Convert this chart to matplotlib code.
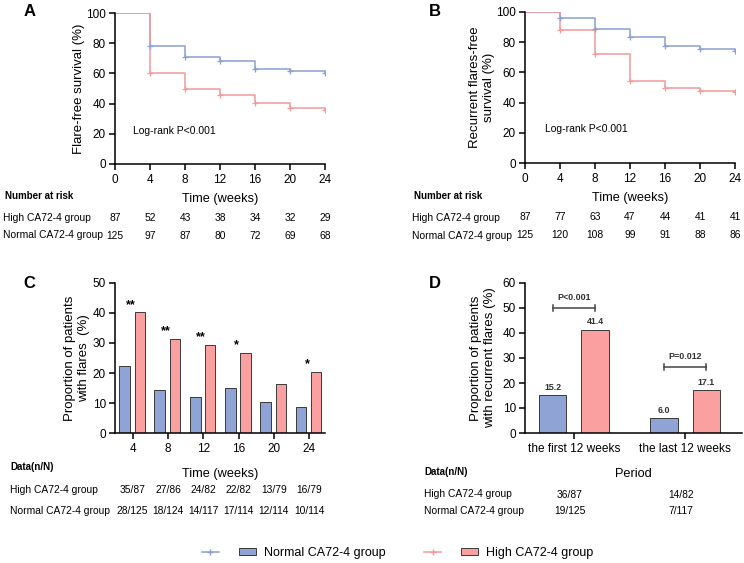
import numpy as np
import matplotlib.pyplot as plt
from matplotlib.lines import Line2D
from matplotlib.patches import Patch
from matplotlib.legend_handler import HandlerTuple

plt.rcParams['font.family'] = ['Liberation Sans', 'DejaVu Sans']

BLUE_LINE = '#8c9fcf'
RED_LINE = '#f29a9a'
BLUE_BAR = '#8fa4d4'
RED_BAR = '#fba0a0'
EDGE = '#3a3a3a'

# Kaplan-Meier data (percent)
weeks = [0, 4, 8, 12, 16, 20, 24]
a_normal = [100, 78, 71, 68, 63, 61.5, 60]
a_high = [100, 60, 49.5, 45.5, 40.7, 37.2, 36]
a_risk_high = [87, 52, 43, 38, 34, 32, 29]
a_risk_normal = [125, 97, 87, 80, 72, 69, 68]

b_normal = [100, 96, 88.5, 83.5, 77.5, 75.5, 74]
b_high = [100, 88, 72.5, 54, 50, 47.5, 47]
b_risk_high = [87, 77, 63, 47, 44, 41, 41]
b_risk_normal = [125, 120, 108, 99, 91, 88, 86]

# panel C
c_weeks = ['4', '8', '12', '16', '20', '24']
c_normal = [22.4, 14.5, 12.0, 14.9, 10.5, 8.8]
c_high = [40.2, 31.4, 29.3, 26.8, 16.5, 20.3]
c_stars = ['**', '**', '**', '*', '', '*']
c_tab_high = ['35/87', '27/86', '24/82', '22/82', '13/79', '16/79']
c_tab_normal = ['28/125', '18/124', '14/117', '17/114', '12/114', '10/114']

# panel D
d_periods = ['the first 12 weeks', 'the last 12 weeks']
d_normal = [15.2, 6.0]
d_high = [41.4, 17.1]
d_pvals = ['P<0.001', 'P=0.012']
d_bracket_y = [50, 26.5]
d_tab_high = ['36/87', '14/82']
d_tab_normal = ['19/125', '7/117']

W, H = 744, 563
fig = plt.figure(figsize=(W / 100, H / 100), dpi=100)


def box(l, t, r, b):
    return [l / W, 1 - b / H, (r - l) / W, (b - t) / H]


def style(ax):
    for s in ['top', 'right']:
        ax.spines[s].set_visible(False)
    for s in ['left', 'bottom']:
        ax.spines[s].set_linewidth(1.1)
    ax.tick_params(direction='out', length=4, width=1.1, labelsize=8.5, pad=2.5)


def km_panel(ax, normal, high, ylabel, r_high, r_normal, lab_x, lab_y):
    ax.step(weeks, normal, where='post', color=BLUE_LINE, lw=1.1)
    ax.step(weeks, high, where='post', color=RED_LINE, lw=1.1)
    ax.plot(weeks[1:], normal[1:], ls='none', marker='+', ms=4, mew=0.9, color=BLUE_LINE)
    ax.plot(weeks[1:], high[1:], ls='none', marker='+', ms=4, mew=0.9, color=RED_LINE)
    ax.set_xlim(0, 24)
    ax.set_ylim(0, 100)
    ax.set_xticks(weeks)
    ax.set_yticks(range(0, 101, 20))
    style(ax)
    ax.tick_params(axis='x', pad=3.5)
    ax.set_xlabel('Time (weeks)', fontsize=9.2, labelpad=5)
    ax.set_ylabel(ylabel, fontsize=9.5, labelpad=1)
    ax.text(lab_x, lab_y, 'Log-rank P<0.001', fontsize=7.5)
    tr = ax.get_xaxis_transform()
    for t, h, n in zip(weeks, r_high, r_normal):
        ax.text(t, -0.36, str(h), transform=tr, ha='center', va='center', fontsize=7.4, clip_on=False)
        ax.text(t, -0.475, str(n), transform=tr, ha='center', va='center', fontsize=7.4, clip_on=False)


# A
axA = fig.add_axes(box(115, 13, 325, 164))
km_panel(axA, a_normal, a_high, 'Flare-free survival (%)', a_risk_high, a_risk_normal, 2.1, 20)
fig.text(5 / W, 1 - 196 / H, 'Number at risk', fontsize=7, fontweight='bold', va='center')
fig.text(3 / W, 1 - 218 / H, 'High CA72-4 group', fontsize=7.4, va='center')
fig.text(3 / W, 1 - 235 / H, 'Normal CA72-4 group', fontsize=7.4, va='center')

# B
axB = fig.add_axes(box(525, 12, 735, 163))
km_panel(axB, b_normal, b_high, 'Recurrent flares-free\nsurvival (%)', b_risk_high, b_risk_normal, 2.3, 20.5)
fig.text(414 / W, 1 - 196 / H, 'Number at risk', fontsize=7, fontweight='bold', va='center')
fig.text(412 / W, 1 - 218 / H, 'High CA72-4 group', fontsize=7.4, va='center')
fig.text(412 / W, 1 - 236 / H, 'Normal CA72-4 group', fontsize=7.4, va='center')

# C
axC = fig.add_axes(box(115, 283, 325, 433))
xc = np.arange(len(c_weeks))
axC.bar(xc - 0.23, c_normal, width=0.31, color=BLUE_BAR, edgecolor=EDGE, linewidth=0.7)
axC.bar(xc + 0.2, c_high, width=0.29, color=RED_BAR, edgecolor=EDGE, linewidth=0.7)
for x, h, s in zip(xc, c_high, c_stars):
    if s:
        axC.text(x - 0.06, h + 0.5, s, ha='center', va='bottom', fontsize=9, fontweight='bold')
axC.set_xlim(-0.5, 5.45)
axC.set_ylim(0, 50)
axC.set_xticks(xc)
axC.set_xticklabels(c_weeks)
axC.set_yticks(range(0, 51, 10))
style(axC)
axC.tick_params(axis='x', pad=3.5)
axC.set_xlabel('Time (weeks)', fontsize=9.2, labelpad=9)
axC.set_ylabel('Proportion of patients\nwith flares  (%)', fontsize=9.5, labelpad=2)
tr = axC.get_xaxis_transform()
for x, h, n in zip(xc, c_tab_high, c_tab_normal):
    axC.text(x, -0.38, h, transform=tr, ha='center', va='center', fontsize=7.4, clip_on=False)
    axC.text(x, -0.52, n, transform=tr, ha='center', va='center', fontsize=7.4, clip_on=False)
fig.text(10 / W, 1 - 467 / H, 'Data(n/N)', fontsize=7, fontweight='bold', va='center')
fig.text(10 / W, 1 - 490 / H, 'High CA72-4 group', fontsize=7.4, va='center')
fig.text(10 / W, 1 - 511 / H, 'Normal CA72-4 group', fontsize=7.4, va='center')

# D
axD = fig.add_axes(box(525, 283, 742, 433))
xd = np.arange(len(d_periods))
axD.bar(xd - 0.19, d_normal, width=0.245, color=BLUE_BAR, edgecolor=EDGE, linewidth=0.7)
axD.bar(xd + 0.19, d_high, width=0.245, color=RED_BAR, edgecolor=EDGE, linewidth=0.7)
for x, n, h in zip(xd, d_normal, d_high):
    axD.text(x - 0.19, n + 1.2, f'{n:.1f}', ha='center', va='bottom', fontsize=6.4, fontweight='bold', color='#333333')
    axD.text(x + 0.19, h + 1.2, f'{h:.1f}', ha='center', va='bottom', fontsize=6.4, fontweight='bold', color='#333333')
for x, y, p in zip(xd, d_bracket_y, d_pvals):
    axD.plot([x - 0.19, x + 0.19], [y, y], color='#444444', lw=1.1)
    for xe in (x - 0.19, x + 0.19):
        axD.plot([xe, xe], [y - 1.3, y + 1.3], color='#444444', lw=1.1)
    axD.text(x, y + 2.2, p, ha='center', va='bottom', fontsize=6.4, fontweight='bold', color='#333333')
axD.set_xlim(-0.44, 1.51)
axD.set_ylim(0, 60)
axD.set_xticks(xd)
axD.set_xticklabels(d_periods)
axD.set_yticks(range(0, 61, 10))
style(axD)
axD.tick_params(axis='x', labelsize=8.6, pad=3.5)
axD.set_xlabel('Period', fontsize=9.2, labelpad=9)
axD.set_ylabel('Proportion of patients\nwith recurrent flares (%)', fontsize=9.5, labelpad=5)
tr = axD.get_xaxis_transform()
for x, h, n in zip(xd, d_tab_high, d_tab_normal):
    axD.text(x - 0.04, -0.41, h, transform=tr, ha='center', va='center', fontsize=7.4, clip_on=False)
    axD.text(x - 0.04, -0.52, n, transform=tr, ha='center', va='center', fontsize=7.4, clip_on=False)
fig.text(424 / W, 1 - 472 / H, 'Data(n/N)', fontsize=7, fontweight='bold', va='center')
fig.text(424 / W, 1 - 494 / H, 'High CA72-4 group', fontsize=7.4, va='center')
fig.text(424 / W, 1 - 511 / H, 'Normal CA72-4 group', fontsize=7.4, va='center')

# panel letters
for lx, ly, s in [(30, 11, 'A'), (435, 11, 'B'), (29, 284, 'C'), (435, 284, 'D')]:
    fig.text(lx / W, 1 - ly / H, s, fontsize=12, fontweight='bold', ha='center', va='center')

# legend
h1 = (Line2D([], [], color=BLUE_LINE, lw=1.1, marker='+', ms=4),
      Patch(facecolor=BLUE_BAR, edgecolor=EDGE, lw=0.7))
h2 = (Line2D([], [], color=RED_LINE, lw=1.1, marker='+', ms=4),
      Patch(facecolor=RED_BAR, edgecolor=EDGE, lw=0.7))
fig.legend([h1, h2], ['Normal CA72-4 group', 'High CA72-4 group'],
           handler_map={tuple: HandlerTuple(ndivide=None, pad=1.6)},
           ncol=2, frameon=False, fontsize=9, handlelength=4.3, handleheight=0.55,
           columnspacing=3.1, handletextpad=0.65, borderpad=0, borderaxespad=0,
           loc='center left', bbox_to_anchor=(202 / W, 1 - 553 / H))

fig.savefig('out.png', dpi=100)
